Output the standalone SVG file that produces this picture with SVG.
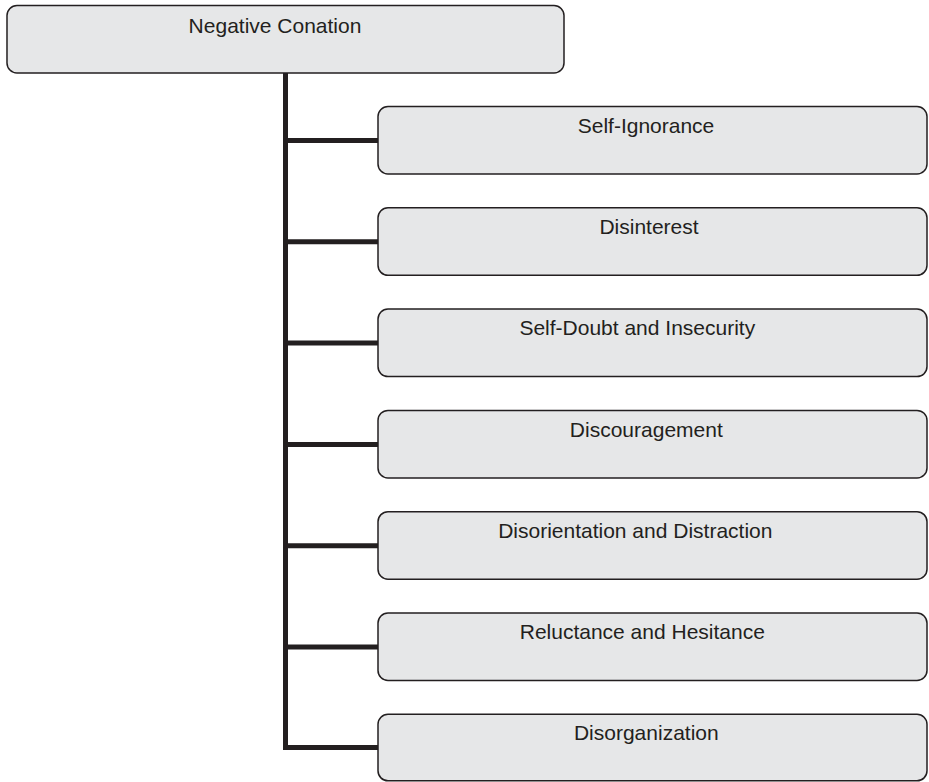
<svg xmlns="http://www.w3.org/2000/svg" width="929" height="782" viewBox="0 0 929 782">
<style>
.box{fill:#e6e7e8;stroke:#231f20;stroke-width:1.5}
.lbl{font-family:"Liberation Sans",Arial,sans-serif;font-size:21px;fill:#231f20;text-anchor:middle}
.conn{fill:none;stroke:#231f20;stroke-width:5;stroke-linejoin:miter;stroke-linecap:butt}
</style>
<rect width="929" height="782" fill="#ffffff"/>
<g id="connectors">
<path class="conn" d="M285.5 73 V747.5 H378"/>
<path class="conn" d="M285.5 140.5 H378"/>
<path class="conn" d="M285.5 241.8 H378"/>
<path class="conn" d="M285.5 343.1 H378"/>
<path class="conn" d="M285.5 444.4 H378"/>
<path class="conn" d="M285.5 545.7 H378"/>
<path class="conn" d="M285.5 647 H378"/>
</g>
<g id="root">
<rect class="box" x="7" y="5.5" width="557" height="67.5" rx="10"/>
<text class="lbl" x="275" y="32.7">Negative Conation</text>
</g>
<g id="n1">
<rect class="box" x="378" y="106.5" width="549" height="67.5" rx="10"/>
<text class="lbl" x="646" y="133.3">Self-Ignorance</text>
</g>
<g id="n2">
<rect class="box" x="378" y="207.8" width="549" height="67.5" rx="10"/>
<text class="lbl" x="649" y="234.3">Disinterest</text>
</g>
<g id="n3">
<rect class="box" x="378" y="309.1" width="549" height="67.5" rx="10"/>
<text class="lbl" x="637.3" y="335.3">Self-Doubt and Insecurity</text>
</g>
<g id="n4">
<rect class="box" x="378" y="410.4" width="549" height="67.5" rx="10"/>
<text class="lbl" x="646.3" y="436.7">Discouragement</text>
</g>
<g id="n5">
<rect class="box" x="378" y="511.7" width="549" height="67.5" rx="10"/>
<text class="lbl" x="635.3" y="537.7">Disorientation and Distraction</text>
</g>
<g id="n6">
<rect class="box" x="378" y="613" width="549" height="67.5" rx="10"/>
<text class="lbl" x="642.3" y="639">Reluctance and Hesitance</text>
</g>
<g id="n7">
<rect class="box" x="378" y="714.3" width="549" height="66.5" rx="10"/>
<text class="lbl" x="646.3" y="740">Disorganization</text>
</g>
</svg>
